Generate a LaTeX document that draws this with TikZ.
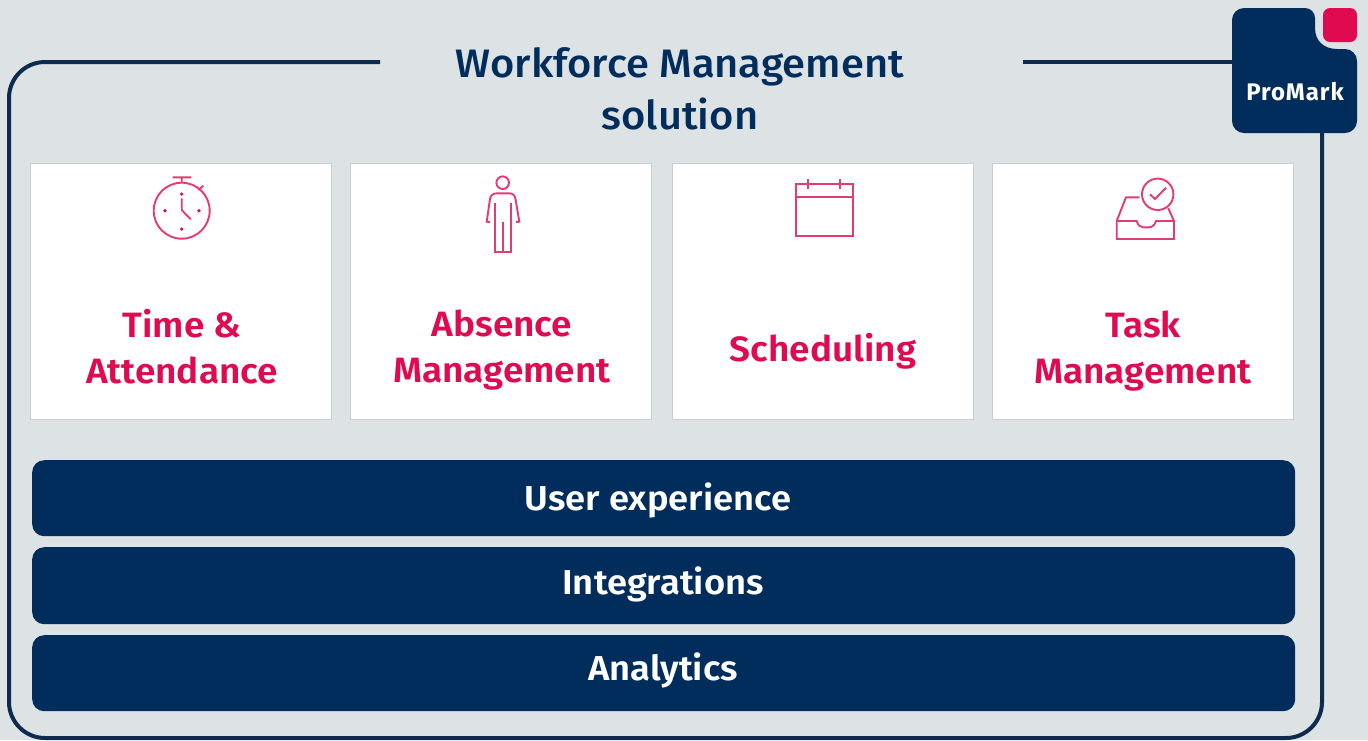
\documentclass[tikz,border=0pt]{standalone}
\usepackage{fontspec}
\setmainfont{Fira Sans}[UprightFont=* Medium]
\newfontfamily\titlefont{Fira Sans}[UprightFont=* Medium, FakeStretch=1.05]
\newfontfamily\labelfont{Fira Sans}[UprightFont=* SemiBold, FakeStretch=1.05]
\newfontfamily\logofont{Fira Sans}[UprightFont=* Bold, LetterSpace=4]
\usetikzlibrary{positioning}
\definecolor{pagegray}{HTML}{DDE2E5}
\definecolor{navy}{HTML}{002D5C}
\definecolor{framenavy}{HTML}{0E2A4C}
\definecolor{promark}{HTML}{DF0A50}
\definecolor{cardline}{HTML}{C9CED2}

\begin{document}
\begin{tikzpicture}[x=1pt, y=-1pt,
    card/.style={draw=cardline, line width=0.8pt, fill=white, minimum width=301pt, minimum height=256pt, anchor=north west},
    cardlabel/.style={text=promark, align=center, font=\labelfont\fontsize{35.2}{46}\selectfont},
    bar/.style={fill=navy, rounded corners=12pt, minimum width=1263pt, minimum height=76pt, anchor=north west},
    barlabel/.style={text=white, font=\labelfont\fontsize{34.6}{40}\selectfont},
    frameline/.style={draw=framenavy, line width=4pt},
    icon/.style={draw=promark!80!white, line width=1.9pt},
    ]
    \useasboundingbox (0,0) rectangle (1368,740);
    \fill[pagegray] (0,0) rectangle (1368,740);

    % outer frame
    \coordinate (frameleft) at (380,62);
    \coordinate (frameright) at (1023,62);
    \coordinate (logoleft) at (1232,62);
    \coordinate (logobottom) at (1322,133);
    \draw[frameline, rounded corners=36pt] (frameleft) -- (9,62) -- (9,738) -- (1322,738) -- (logobottom);
    \draw[frameline] (frameright) -- (logoleft);

    \node[text=navy, align=center, font=\titlefont\fontsize{39.7}{52}\selectfont] (title) at (680,89) {Workforce Management\\solution};

    % logo
    \fill[navy] (1244,8) -- (1305,8) arc[start angle=90, end angle=0, radius=10pt] -- (1315,28)
      .. controls (1315,41) and (1324,49) .. (1337,49) -- (1345,49) arc[start angle=90, end angle=0, radius=12pt]
      -- (1357,121) arc[start angle=0, end angle=-90, radius=12pt] -- (1244,133)
      arc[start angle=-90, end angle=-180, radius=12pt] -- (1232,20) arc[start angle=180, end angle=90, radius=12pt] -- cycle;
    \fill[promark, rounded corners=7pt] (1323,8) rectangle (1357,42);
    \node[text=white, font=\logofont\fontsize{24}{26}\selectfont] (logo) at (1295,92) {ProMark};

    % cards
    \node[card] (time) at (30,163) {};
    \node[card] (absence) at (349.5,163) {};
    \node[card] (scheduling) at (672,163) {};
    \node[card] (task) at (992,163) {};

    \node[cardlabel] (timelabel) at (182,347) {Time \&\\Attendance};
    \node[cardlabel] (absencelabel) at (502,350) {Absence\\Management};
    \node[cardlabel] (schedulinglabel) at (823,351) {Scheduling};
    \node[cardlabel] (tasklabel) at (1143,351) {Task\\Management};

    % stopwatch
    \draw[icon] (181.7,210.7) circle[radius=28pt];
    \draw[icon] (172.7,177.3) -- (191.3,177.3) (181.7,177.3) -- (181.7,182.7) (198.3,190) -- (203.3,185.7);
    \draw[icon] (181.7,198.3) -- (181.7,210) -- (190.7,219.3);
    \foreach \dotx/\doty in {165/210.7, 199/210.7, 181.7/194, 181.7/229}
      \fill[promark] (\dotx,\doty) circle[radius=1.8pt];

    % person
    \draw[icon] (502.7,182.7) circle[radius=6.3pt];
    \draw[icon] (490,222) -- (486.7,221.7) -- (490,199) .. controls (490.5,195.5) and (493,193.3) .. (497,193.3)
      -- (509,193.3) .. controls (513,193.3) and (515,195.5) .. (515.5,199) -- (519.3,221.7) -- (516,222);
    \draw[icon] (495,203.3) -- (495,252.3) -- (511,252.3) -- (511,203.3) (502.7,222.3) -- (502.7,252.3);

    % calendar
    \draw[icon] (795.7,184) rectangle (852.7,236);
    \draw[icon] (795.7,197.3) -- (852.7,197.3) (808.3,179) -- (808.3,189) (840.3,179) -- (840.3,189);

    % inbox
    \draw[icon] (1157.7,194.3) circle[radius=15.7pt];
    \draw[icon] (1150,194.3) -- (1155,199) -- (1166,187.7);
    \draw[icon] (1139.3,197.3) -- (1126,197.3) -- (1116.7,221) -- (1116.7,239) -- (1174,239) -- (1174,221) -- (1168.3,208.3);
    \draw[icon] (1116.7,221) -- (1136.7,221) .. controls (1138,225) and (1140,227.3) .. (1143,227.3)
      -- (1149,227.3) .. controls (1152,227.3) and (1155,225) .. (1156,221) -- (1174,221);

    % bars
    \node[bar] (experience) at (32,460) {};
    \node[bar, minimum height=77pt] (integrations) at (32,547) {};
    \node[bar] (analytics) at (32,635) {};
    \node[barlabel] (experiencelabel) at (658,500) {User experience};
    \node[barlabel] (integrationslabel) at (663,584) {Integrations};
    \node[barlabel] (analyticslabel) at (663,670) {Analytics};
\end{tikzpicture}
\end{document}
